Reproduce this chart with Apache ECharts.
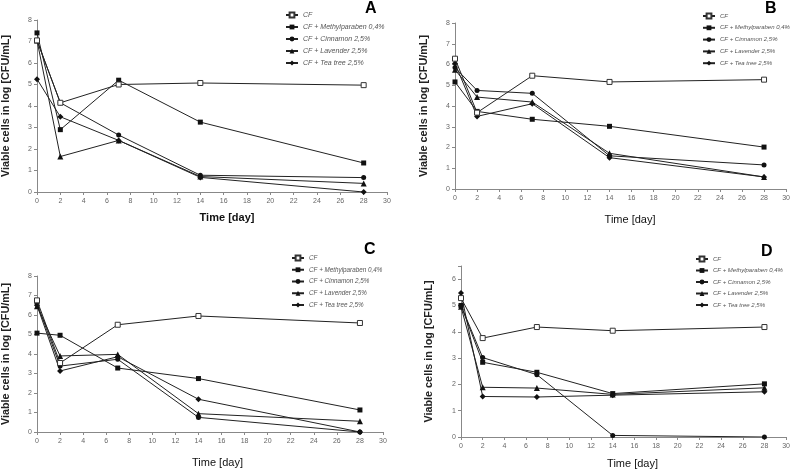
<!DOCTYPE html>
<html><head><meta charset="utf-8">
<script src="https://cdn.jsdelivr.net/npm/echarts@6/dist/echarts.min.js"></script>
<style>html,body{margin:0;padding:0;background:#fff}#c{width:793px;height:470px}</style>
</head><body><div id="c"></div>
<script>
const days = [0, 2, 7, 14, 28];
const seriesNames = ['CF', 'CF + Methylparaben 0,4%', 'CF + Cinnamon 2,5%', 'CF + Lavender 2,5%', 'CF + Tea tree 2,5%'];
const xTicks = [0, 30, 2];
const panelLetters = ['A', 'B', 'C', 'D'];

// Panel A
const cfA = [7.05, 4.15, 5.0, 5.07, 4.97];
const mpA = [7.4, 2.9, 5.2, 3.25, 1.35];
const ciA = [7.05, 4.15, 2.65, 0.78, 0.67];
const laA = [7.05, 1.65, 2.4, 0.72, 0.4];
const ttA = [5.25, 3.5, 2.4, 0.68, 0.0];
// Panel B
const cfB = [6.28, 3.68, 5.46, 5.16, 5.27];
const mpB = [5.16, 3.74, 3.36, 3.02, 2.02];
const ciB = [5.85, 4.75, 4.61, 1.6, 1.16];
const laB = [5.75, 4.43, 4.19, 1.72, 0.58];
const ttB = [6.05, 3.5, 4.11, 1.51, 0.58];
// Panel C
const cfC = [6.75, 3.54, 5.5, 5.95, 5.59];
const mpC = [5.07, 4.96, 3.28, 2.74, 1.13];
const ciC = [6.6, 3.38, 3.73, 0.75, 0.0];
const laC = [6.45, 3.9, 3.98, 0.94, 0.55];
const ttC = [6.5, 3.13, 3.86, 1.68, 0.0];
// Panel D
const cfD = [5.28, 3.76, 4.18, 4.04, 4.18];
const mpD = [5.0, 2.84, 2.46, 1.65, 2.02];
const ciD = [5.0, 3.02, 2.37, 0.06, 0.0];
const laD = [4.95, 1.89, 1.86, 1.62, 1.87];
const ttD = [5.47, 1.54, 1.52, 1.59, 1.72];

const panels = [
  {data: [cfA, mpA, ciA, laA, ttA], yMax: 8},
  {data: [cfB, mpB, ciB, laB, ttB], yMax: 8},
  {data: [cfC, mpC, ciC, laC, ttC], yMax: 8},
  {data: [cfD, mpD, ciD, laD, ttD], yMax: 6.5}
];

const FONT = 'Liberation Sans, Arial, sans-serif';
const layout = [
  {grid: {left: 32, top: 20, width: 355, height: 172}, xGap: 20, xPad: 30, xBold: 'bold', yGap: 25, legend: {left: 285, top: 10, gap: 2, fs: 7}, title: {left: 365, top: 1}},
  {grid: {left: 455, top: 23, width: 333, height: 166}, xGap: 25, xPad: 19, xBold: 'normal', yGap: 25, legend: {left: 702, top: 11, gap: 1.8, fs: 6}, title: {left: 765, top: 1}},
  {grid: {left: 32, top: 276, width: 351, height: 156}, xGap: 25, xPad: 15, xBold: 'normal', yGap: 25, legend: {left: 291, top: 253, gap: 1.75, fs: 6.3}, title: {left: 364, top: 242}},
  {grid: {left: 461, top: 266, width: 326, height: 172}, xGap: 21, xPad: 18, xBold: 'normal', yGap: 26, legend: {left: 695, top: 254, gap: 1.5, fs: 6}, title: {left: 761, top: 244}}
];

const symbols = ['rect', 'rect', 'circle', 'triangle', 'diamond'];
const symSizes = [5, 5, 5, 6, 6];

const option = {
  animation: false,
  backgroundColor: '#fff',
  title: [], grid: [], xAxis: [], yAxis: [], legend: [], series: []
};

panels.forEach((p, i) => {
  const L = layout[i];
  option.grid.push(L.grid);
  option.title.push({text: panelLetters[i], left: L.title.left, top: L.title.top, padding: 0,
    textStyle: {fontSize: 16, fontWeight: 'bold', color: '#000', fontFamily: FONT}});
  option.xAxis.push({
    type: 'value', gridIndex: i, min: xTicks[0], max: xTicks[1], interval: xTicks[2],
    name: 'Time [day]', nameLocation: 'middle', nameGap: L.xGap,
    nameTextStyle: {fontSize: 11, fontWeight: L.xBold, color: '#111', fontFamily: FONT, padding: [0, 0, 0, L.xPad]},
    axisLine: {lineStyle: {color: '#888', width: 1}},
    axisTick: {show: true, length: 3, lineStyle: {color: '#888'}},
    axisLabel: {fontSize: 7, color: '#666', margin: 6, fontFamily: FONT},
    splitLine: {show: false}
  });
  option.yAxis.push({
    type: 'value', gridIndex: i, min: 0, max: p.yMax, interval: 1,
    name: 'Viable cells in log [CFU/mL]', nameLocation: 'middle', nameGap: L.yGap,
    nameTextStyle: {fontSize: 10.8, fontWeight: 'bold', color: '#222', fontFamily: FONT},
    axisLine: {show: true, lineStyle: {color: '#888', width: 1}},
    axisTick: {show: true, length: 3, lineStyle: {color: '#888'}},
    axisLabel: {fontSize: 7, color: '#666', margin: 5, fontFamily: FONT,
      formatter: v => (Number.isInteger(v) ? String(v) : '')},
    splitLine: {show: false}
  });
  option.legend.push({
    orient: 'vertical', left: L.legend.left, top: L.legend.top, padding: 0,
    itemWidth: 12, itemHeight: 6, itemGap: L.legend.gap,
    data: seriesNames,
    textStyle: {fontSize: L.legend.fs, fontStyle: 'italic', color: '#555', fontFamily: FONT, lineHeight: 10}
  });
  p.data.forEach((vals, k) => {
    option.series.push({
      name: seriesNames[k], type: 'line', xAxisIndex: i, yAxisIndex: i,
      data: days.map((d, j) => [d, vals[j]]),
      symbol: symbols[k], symbolSize: symSizes[k],
      lineStyle: {color: '#222', width: 1},
      itemStyle: k === 0 ? {color: '#fff', borderColor: '#333', borderWidth: 1} : {color: '#111', borderColor: '#111', borderWidth: 0},
      z: k === 0 ? 3 : 2
    });
  });
});

const chart = echarts.init(document.getElementById('c'));
chart.setOption(option);
</script></body></html>
